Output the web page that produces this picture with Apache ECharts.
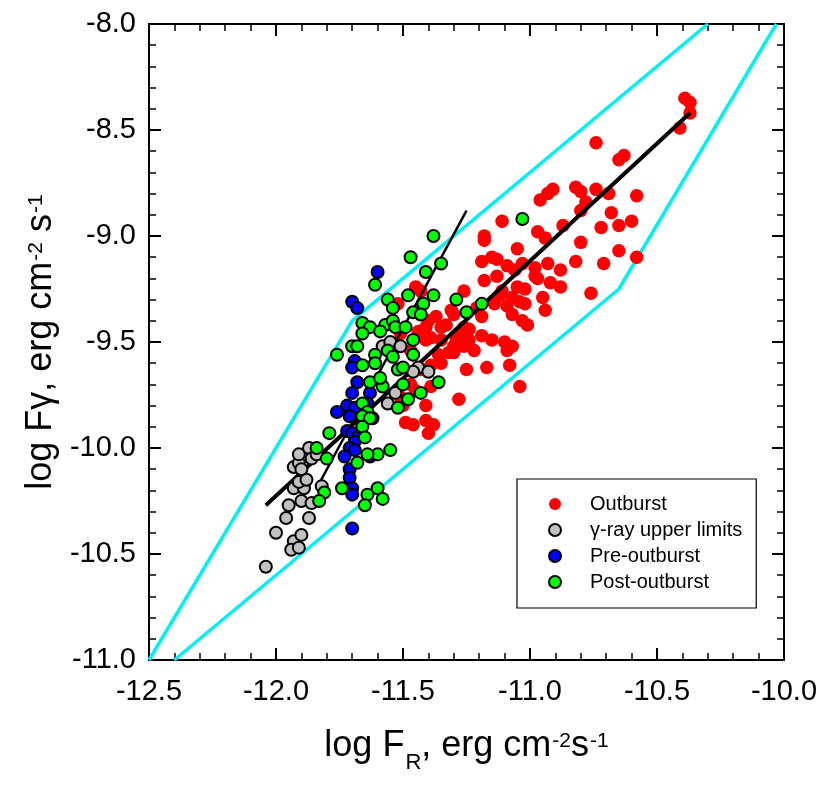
<!DOCTYPE html>
<html>
<head>
<meta charset="utf-8">
<title>log Fgamma vs log FR</title>
<script src="https://cdn.jsdelivr.net/npm/echarts@6/dist/echarts.min.js"></script>
<style>
  html, body { margin: 0; padding: 0; background: #fff; }
  #chart { width: 830px; height: 788px; }
</style>
</head>
<body>
<div id="chart"></div>
<script>
// axis ranges (log F_R on x, log F_gamma on y)
const xRange = [-12.5, -10.0]
const yRange = [-11.0, -8.0]

// outburst points (red)
const outburst = [
  [-10.39, -8.35], [-10.37, -8.37], [-10.37, -8.42], [-10.41, -8.49], [-10.74, -8.56], [-10.65, -8.64],
  [-10.63, -8.62], [-10.91, -8.78], [-10.93, -8.80], [-10.96, -8.83], [-10.82, -8.77], [-10.80, -8.79],
  [-10.74, -8.78], [-10.69, -8.80], [-10.58, -8.81], [-10.78, -8.84], [-10.80, -8.88], [-10.68, -8.89],
  [-11.11, -8.93], [-10.87, -8.95], [-10.72, -8.96], [-10.65, -8.95], [-10.60, -8.93], [-11.18, -9.00],
  [-11.18, -9.02], [-10.97, -8.98], [-10.94, -9.01], [-10.80, -9.03], [-11.05, -9.06], [-10.65, -9.07],
  [-10.58, -9.10], [-11.19, -9.12], [-11.15, -9.10], [-11.13, -9.11], [-11.09, -9.14], [-11.06, -9.16],
  [-11.03, -9.13], [-10.98, -9.15], [-10.97, -9.20], [-10.93, -9.13], [-10.88, -9.16], [-10.82, -9.12],
  [-10.71, -9.13], [-11.18, -9.21], [-11.13, -9.19], [-10.98, -9.19], [-10.92, -9.22], [-10.88, -9.24],
  [-10.76, -9.27], [-11.11, -9.26], [-11.05, -9.24], [-11.02, -9.25], [-11.07, -9.29], [-11.04, -9.31],
  [-11.02, -9.32], [-10.95, -9.29], [-11.14, -9.32], [-10.94, -9.35], [-11.26, -9.26], [-11.31, -9.35],
  [-11.19, -9.38], [-11.07, -9.37], [-11.03, -9.40], [-11.01, -9.42], [-11.40, -9.40], [-11.35, -9.43],
  [-11.33, -9.42], [-11.28, -9.46], [-11.24, -9.44], [-11.24, -9.49], [-11.30, -9.52], [-11.30, -9.55],
  [-11.19, -9.47], [-11.15, -9.49], [-11.10, -9.50], [-11.07, -9.52], [-11.09, -9.54], [-11.22, -9.54],
  [-11.41, -9.49], [-11.32, -9.55], [-11.25, -9.63], [-11.17, -9.62], [-11.08, -9.61], [-11.04, -9.71],
  [-11.28, -9.77], [-11.41, -9.80], [-11.39, -9.61], [-11.49, -9.88], [-11.46, -9.89], [-11.41, -9.87],
  [-11.38, -9.89], [-11.40, -9.93], [-11.50, -9.80], [-11.43, -9.26], [-11.41, -9.43], [-11.39, -9.48],
  [-11.29, -9.49], [-11.26, -9.43], [-11.35, -9.60], [-11.43, -9.63], [-11.39, -9.71], [-11.45, -9.73],
  [-11.51, -9.46], [-11.47, -9.54], [-11.51, -9.76], [-11.47, -9.70], [-11.45, -9.24], [-11.52, -9.32],
  [-11.30, -9.37], [-11.37, -9.38], [-11.26, -9.52], [-11.35, -9.49], [-11.12, -9.28], [-11.09, -9.33],
  [-11.21, -9.34], [-11.36, -9.56], [-11.44, -9.45]
]

// gamma-ray upper limits (grey)
const upperLimits = [
  [-12.04, -10.56], [-12.00, -10.40], [-11.96, -10.33], [-11.87, -10.33], [-11.93, -10.44], [-11.94, -10.48],
  [-11.91, -10.47], [-11.90, -10.41], [-11.95, -10.27], [-11.90, -10.25], [-11.86, -10.26], [-11.93, -10.19],
  [-11.89, -10.19], [-11.91, -10.16], [-11.88, -10.15], [-11.93, -10.09], [-11.91, -10.07], [-11.90, -10.10],
  [-11.91, -10.03], [-11.87, -10.00], [-11.86, -10.05], [-11.82, -10.18], [-11.56, -9.79], [-11.53, -9.74],
  [-11.84, -10.03], [-11.58, -9.52], [-11.55, -9.50], [-11.51, -9.52], [-11.44, -9.62], [-11.40, -9.64],
  [-11.46, -9.64]
]

// pre-outburst (blue)
const preOutburst = [
  [-11.60, -9.17], [-11.70, -9.31], [-11.68, -9.34], [-11.69, -9.59], [-11.70, -9.62], [-11.68, -9.69],
  [-11.70, -9.74], [-11.63, -9.74], [-11.72, -9.80], [-11.76, -9.83], [-11.69, -9.81], [-11.64, -9.79],
  [-11.71, -9.85], [-11.72, -9.92], [-11.70, -9.93], [-11.68, -9.95], [-11.69, -9.97], [-11.71, -10.00],
  [-11.69, -10.01], [-11.73, -10.04], [-11.63, -10.04], [-11.71, -10.10], [-11.71, -10.14], [-11.70, -10.19],
  [-11.70, -10.22], [-11.70, -10.38], [-11.62, -9.86]
]

// post-outburst (green)
const postOutburst = [
  [-11.38, -9.00], [-11.03, -8.92], [-11.47, -9.10], [-11.35, -9.13], [-11.41, -9.17], [-11.61, -9.23],
  [-11.48, -9.28], [-11.38, -9.28], [-11.29, -9.30], [-11.56, -9.30], [-11.54, -9.34], [-11.42, -9.32],
  [-11.46, -9.36], [-11.43, -9.37], [-11.25, -9.36], [-11.19, -9.32], [-11.66, -9.41], [-11.63, -9.43],
  [-11.57, -9.42], [-11.54, -9.40], [-11.53, -9.43], [-11.49, -9.43], [-11.59, -9.45], [-11.66, -9.46],
  [-11.70, -9.52], [-11.68, -9.52], [-11.76, -9.56], [-11.61, -9.56], [-11.56, -9.54], [-11.54, -9.57],
  [-11.46, -9.49], [-11.46, -9.56], [-11.61, -9.60], [-11.66, -9.61], [-11.52, -9.63], [-11.50, -9.62],
  [-11.63, -9.69], [-11.58, -9.71], [-11.50, -9.70], [-11.36, -9.69], [-11.43, -9.74], [-11.59, -9.67],
  [-11.48, -9.77], [-11.66, -9.79], [-11.64, -9.83], [-11.52, -9.81], [-11.66, -9.85], [-11.63, -9.86],
  [-11.66, -9.90], [-11.65, -9.95], [-11.79, -9.93], [-11.84, -10.00], [-11.80, -10.05], [-11.55, -10.01],
  [-11.60, -10.03], [-11.68, -10.07], [-11.64, -10.03], [-11.81, -10.21], [-11.83, -10.25], [-11.74, -10.19],
  [-11.60, -10.19], [-11.64, -10.22], [-11.65, -10.27], [-11.58, -10.24]
]

// fits and envelope
const fitAll = [[-12.04, -10.27], [-10.37, -8.42]]
const fitQuiet = [[-11.84, -10.19], [-11.25, -8.88]]
const envelopeUpper = [[-12.5, -11.0], [-11.70, -9.40], [-10.30, -8.0]]
const envelopeLower = [[-10.03, -8.0], [-10.65, -9.25], [-12.40, -11.0]]

const legendNames = ['Outburst', 'γ-ray upper limits', 'Pre-outburst', 'Post-outburst']

const FONT = '"Liberation Sans", Arial, Helvetica, sans-serif'

const chart = echarts.init(document.getElementById('chart'), null, { renderer: 'canvas' })

function makeAxis(position, showLabel, extra) {
  return Object.assign({
    type: 'value',
    position: position,
    axisLine: { show: true, onZero: false, lineStyle: { color: '#000', width: 2 } },
    axisTick: { show: true, inside: true, length: 12, lineStyle: { color: '#000', width: 2 } },
    minorTick: { show: true, splitNumber: 5, length: 7, lineStyle: { color: '#000', width: 1.5 } },
    splitLine: { show: false },
    minorSplitLine: { show: false },
    axisLabel: {
      show: showLabel,
      color: '#000',
      fontSize: 29,
      fontFamily: FONT,
      formatter: (v) => v.toFixed(1)
    }
  }, extra)
}

// rich text pieces for the axis titles
const titleRich = {
  b: { fontSize: 36, lineHeight: 36, verticalAlign: 'top', fontFamily: FONT, color: '#000' },
  sup: { fontSize: 21, lineHeight: 21, verticalAlign: 'top', padding: [3, 0, 0, 1], fontFamily: FONT, color: '#000' },
  sub: { fontSize: 22, lineHeight: 22, verticalAlign: 'top', padding: [24, 0, 0, 1], fontFamily: FONT, color: '#000' }
}

const markerBorder = { borderColor: '#000', borderWidth: 2 }

const option = {
  animation: false,
  backgroundColor: '#fff',
  grid: { left: 149, right: 46, top: 24, bottom: 128, outerBoundsMode: 'none', containLabel: false },
  legend: {
    show: true,
    data: legendNames,
    orient: 'vertical',
    left: 517,
    top: 479,
    padding: [15, 14, 16, 31],
    itemWidth: 12,
    itemHeight: 12,
    itemGap: 6,
    backgroundColor: '#fff',
    borderColor: '#000',
    borderWidth: 1.2,
    borderRadius: 0,
    selectedMode: false,
    textStyle: { color: '#000', fontSize: 20, lineHeight: 20, fontFamily: FONT, padding: [0, 0, 0, 24] }
  },
  xAxis: [
    makeAxis('bottom', true, {
      min: xRange[0], max: xRange[1], interval: 0.5,
      name: '{b|log F}{sub|R}{b|, erg cm}{sup|-2}{b|s}{sup|-1}',
      nameLocation: 'middle',
      nameGap: 68,
      nameTextStyle: { rich: titleRich },
      axisLabel: { show: true, color: '#000', fontSize: 29, fontFamily: FONT, margin: 17, formatter: (v) => v.toFixed(1) }
    }),
    makeAxis('top', false, { min: xRange[0], max: xRange[1], interval: 0.5 })
  ],
  yAxis: [
    makeAxis('left', true, {
      min: yRange[0], max: yRange[1], interval: 0.5,
      name: '{b|log Fγ, erg cm}{sup|-2}{b| s}{sup|-1}',
      nameLocation: 'middle',
      nameRotate: 90,
      nameGap: 86,
      nameTextStyle: { rich: titleRich },
      axisLabel: { show: true, color: '#000', fontSize: 29, fontFamily: FONT, margin: 13, formatter: (v) => v.toFixed(1) }
    }),
    makeAxis('right', false, { min: yRange[0], max: yRange[1], interval: 0.5 })
  ],
  series: [
    {
      name: 'envelope-upper', type: 'line', data: envelopeUpper, symbol: 'none',
      lineStyle: { color: '#00f0f4', width: 3.5 }, z: 1, silent: true
    },
    {
      name: 'envelope-lower', type: 'line', data: envelopeLower, symbol: 'none',
      lineStyle: { color: '#00f0f4', width: 3.5 }, z: 1, silent: true
    },
    {
      name: 'Outburst', type: 'scatter', data: outburst, symbol: 'circle', symbolSize: 13.5,
      itemStyle: { color: '#ff0000', opacity: 1 }, z: 2
    },
    {
      name: 'fit-all', type: 'line', data: fitAll, symbol: 'none',
      lineStyle: { color: '#000', width: 4 }, z: 3, silent: true
    },
    {
      name: 'fit-quiet', type: 'line', data: fitQuiet, symbol: 'none',
      lineStyle: { color: '#000', width: 2.5 }, z: 3, silent: true
    },
    {
      name: 'γ-ray upper limits', type: 'scatter', data: upperLimits, symbol: 'circle', symbolSize: 12,
      itemStyle: Object.assign({ color: '#c0c0c0', opacity: 1 }, markerBorder), z: 4
    },
    {
      name: 'Pre-outburst', type: 'scatter', data: preOutburst, symbol: 'circle', symbolSize: 12,
      itemStyle: Object.assign({ color: '#0000ff', opacity: 1 }, markerBorder), z: 4
    },
    {
      name: 'Post-outburst', type: 'scatter', data: postOutburst, symbol: 'circle', symbolSize: 12,
      itemStyle: Object.assign({ color: '#00ff00', opacity: 1 }, markerBorder), z: 4
    }
  ]
}

chart.setOption(option)
</script>
</body>
</html>
